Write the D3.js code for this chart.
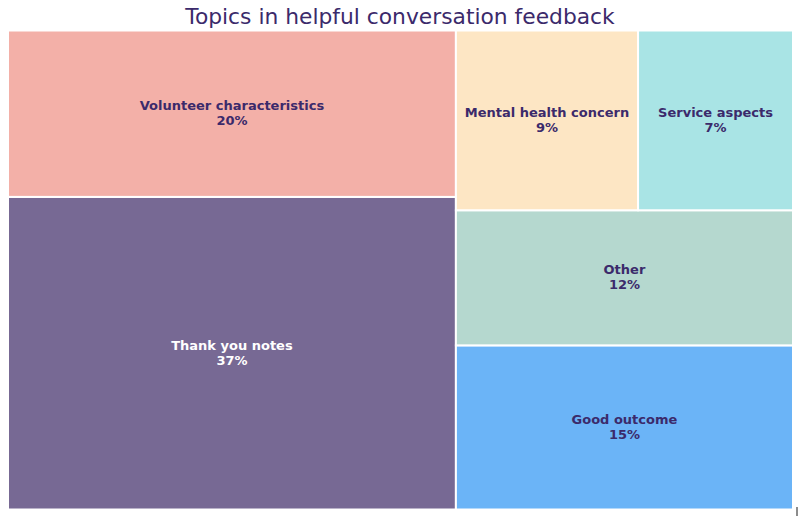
<!DOCTYPE html>
<html>
<head>
<meta charset="utf-8">
<script src="https://cdn.jsdelivr.net/npm/d3@7"></script>
<style>
  body { margin: 0; background: #fff; }
  svg { display: block; }
</style>
</head>
<body>
<div id="chart"></div>
<script>
// topic shares (percent of helpful conversation feedback)
const topics = ["Thank you notes", "Volunteer characteristics", "Good outcome", "Other", "Mental health concern", "Service aspects"];
const shares = [37.2, 19.8, 14.7, 12.1, 8.7, 7.4];
const colors = ["#776994", "#f3b0a8", "#6bb4f7", "#b5d8cf", "#fde6c4", "#a9e4e5"];
const textColors = ["#ffffff", "#3b2a6b", "#3b2a6b", "#3b2a6b", "#3b2a6b", "#3b2a6b"];

const width = 800, height = 516;
const margin = { top: 30.5, right: 7, bottom: 6.5, left: 8 };

const svg = d3.select("#chart")
  .append("svg")
  .attr("width", width)
  .attr("height", height);

svg.append("text")
  .attr("x", width / 2)
  .attr("y", 24)
  .attr("text-anchor", "middle")
  .style("font-family", "DejaVu Sans")
  .style("font-size", "21.8px")
  .style("fill", "#3b2a6b")
  .text("Topics in helpful conversation feedback");

const data = topics.map((t, i) => ({ name: t, value: shares[i], color: colors[i], text: textColors[i] }));

// layout in a normalised 100 x 100 square, then stretched to the plot area
const root = d3.hierarchy({ children: data })
  .sum((d) => d.value || 0)
  .sort((a, b) => b.value - a.value);

d3.treemap()
  .size([100, 100])
  .tile(d3.treemapSquarify.ratio(1))(root);

const x = d3.scaleLinear().domain([0, 100]).range([margin.left, width - margin.right]);
const y = d3.scaleLinear().domain([0, 100]).range([height - margin.bottom, margin.top]);

const cell = svg.append("g")
  .selectAll("g")
  .data(root.leaves())
  .join("g");

cell.append("rect")
  .attr("x", (d) => x(d.x0))
  .attr("y", (d) => y(d.y1))
  .attr("width", (d) => x(d.x1) - x(d.x0))
  .attr("height", (d) => y(d.y0) - y(d.y1))
  .attr("fill", (d) => d.data.color)
  .attr("stroke", "#fff")
  .attr("stroke-width", 2);

const label = cell.append("text")
  .attr("x", (d) => (x(d.x0) + x(d.x1)) / 2)
  .attr("y", (d) => (y(d.y0) + y(d.y1)) / 2)
  .attr("text-anchor", "middle")
  .style("font-family", "DejaVu Sans")
  .style("font-weight", "bold")
  .style("font-size", "13px")
  .style("fill", (d) => d.data.text);

label.append("tspan")
  .attr("x", (d) => (x(d.x0) + x(d.x1)) / 2)
  .attr("dy", "-0.26em")
  .text((d) => d.data.name);

label.append("tspan")
  .attr("x", (d) => (x(d.x0) + x(d.x1)) / 2)
  .attr("dy", "1.15em")
  .text((d) => Math.round(d.data.value) + "%");

// small stray mark at the lower right corner of the original
svg.append("line")
  .attr("x1", 797).attr("x2", 797)
  .attr("y1", 507).attr("y2", 516)
  .attr("stroke", "#666")
  .attr("stroke-width", 1.5);
</script>
</body>
</html>
